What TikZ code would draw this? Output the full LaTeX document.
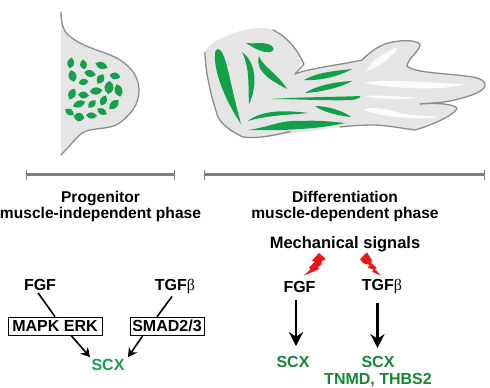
\documentclass[tikz,border=0pt]{standalone}
\usepackage{fontspec}
\setmainfont{Liberation Sans}
\newfontfamily\greekfont{Liberation Serif}
\usetikzlibrary{arrows.meta}
\definecolor{limb}{RGB}{229,229,229}
\definecolor{edgegrey}{RGB}{140,140,140}
\definecolor{muscle}{RGB}{18,160,72}
\definecolor{darkgene}{RGB}{22,135,50}
\definecolor{boltred}{RGB}{235,20,25}
\tikzset{
  x=1pt,y=-1pt,
  outline/.style={draw=edgegrey,line width=1.3pt,line join=round,line cap=round},
  phasebar/.style={draw=edgegrey!90!black,line width=2.6pt},
  phasetick/.style={draw=edgegrey!90!black,line width=1pt},
  highlight/.style={fill=white,fill opacity=.85},
  title/.style={font=\bfseries\fontsize{15.6}{16.6}\selectfont,align=center,inner sep=0pt,text=black},
  signal/.style={font=\bfseries\fontsize{16}{18}\selectfont,inner sep=0pt,text=black},
  pathwaybox/.style={draw=black,line width=.7pt,font=\bfseries\fontsize{16}{18}\selectfont,inner sep=0pt,minimum height=18pt,text=black},
  genelight/.style={font=\bfseries\fontsize{16}{18}\selectfont,inner sep=0pt,text=muscle},
  genedark/.style={font=\bfseries\fontsize{16}{18}\selectfont,inner sep=0pt,text=darkgene},
  plain/.style={line width=1.6pt,draw=black},
  pointer/.style={line width=1.6pt,draw=black,-{Stealth[length=9pt,width=10pt,inset=3pt]}},
  bigpointer/.style={line width=2.4pt,draw=black,-{Stealth[length=14pt,width=14pt,inset=4.5pt]}},
}
% small oval muscle precursor: centre x, centre y, length, width, angle
\newcommand{\cellleaf}[5]{%
  \fill[muscle,shift={(#1,#2)},rotate=#5]
    (-#3/2,0) .. controls (-#3/5,-#4/1.3) and (#3/5,-#4/1.3) .. (#3/2,0)
    .. controls (#3/5,#4/1.3) and (-#3/5,#4/1.3) .. (-#3/2,0) -- cycle;}
\begin{document}
\begin{tikzpicture}
\useasboundingbox (0,0) rectangle (490,388);

% progenitor limb bud
\fill[limb] (61,12) .. controls (61,25) and (64,33) .. (72,38)
  .. controls (88,50) and (110,52) .. (123,62)
  .. controls (134,70) and (139,80) .. (139,90)
  .. controls (139,104) and (132,114) .. (118,124)
  .. controls (108,130) and (92,127) .. (82,133)
  .. controls (74,140) and (68,148) .. (61,155) -- cycle;
\draw[outline] (61,12) .. controls (61,25) and (64,33) .. (72,38)
  .. controls (88,50) and (110,52) .. (123,62)
  .. controls (134,70) and (139,80) .. (139,90)
  .. controls (139,104) and (132,114) .. (118,124)
  .. controls (108,130) and (92,127) .. (82,133)
  .. controls (74,140) and (68,148) .. (61,155);
\cellleaf{70.7}{63}{11}{6}{80}
\cellleaf{83.5}{64.5}{10}{6}{100}
\cellleaf{101.5}{65.5}{13}{6}{-20}
\cellleaf{72.5}{76}{12}{7}{-75}
\cellleaf{90}{73.5}{12}{6}{-15}
\cellleaf{115}{76}{11}{6}{-10}
\cellleaf{83.5}{82}{10}{5.5}{10}
\cellleaf{100.5}{79}{11}{6.5}{60}
\cellleaf{109}{87.5}{13}{8}{85}
\cellleaf{118.5}{90.5}{13}{7}{-75}
\cellleaf{96}{91}{13}{6.5}{5}
\cellleaf{72}{94}{12}{6.5}{65}
\cellleaf{83.5}{95}{11}{6}{-5}
\cellleaf{79}{104}{13}{6}{20}
\cellleaf{92}{104}{10}{5.5}{45}
\cellleaf{103.5}{100.5}{11}{6}{65}
\cellleaf{114}{104.5}{13}{6.5}{45}
\cellleaf{69.5}{112}{10}{5.5}{-30}
\cellleaf{79}{117}{11}{7.5}{-10}
\cellleaf{91.5}{115.5}{11}{5.5}{-5}
\cellleaf{102}{111.5}{11}{5.5}{-30}

% differentiating limb silhouette
\fill[limb] (205,52) .. controls (208,44) and (220,38) .. (237,32)
  .. controls (250,28) and (265,26) .. (273,30)
  .. controls (286,36) and (296,48) .. (302,60)
  -- (295,74) .. controls (310,68) and (340,65) .. (362,60)
  .. controls (370,52) and (380,44) .. (393,42)
  .. controls (402,40) and (416,40) .. (420,44)
  .. controls (421,50) and (408,58) .. (407,66)
  .. controls (414,73) and (445,73) .. (473,77)
  .. controls (482,79) and (486,82) .. (485,86)
  .. controls (484,92) and (465,98) .. (450,101)
  .. controls (440,103) and (430,103) .. (420,104)
  .. controls (432,103) and (452,103) .. (457,108)
  .. controls (457,114) and (430,126) .. (415,130)
  .. controls (400,128) and (385,125) .. (373,125)
  .. controls (350,125) and (335,128) .. (310,131)
  .. controls (290,133) and (262,140) .. (243,137)
  .. controls (232,132) and (222,125) .. (218,117)
  .. controls (212,100) and (205,72) .. (205,52) -- cycle;
% only part of the silhouette carries a contour
\draw[outline] (273,30) .. controls (286,36) and (296,48) .. (302,60)
  -- (304,64) -- (295,74) .. controls (310,68) and (340,65) .. (362,60)
  .. controls (370,52) and (380,44) .. (393,42)
  .. controls (402,40) and (416,40) .. (420,44)
  .. controls (421,50) and (408,58) .. (407,66)
  .. controls (414,73) and (445,73) .. (473,77)
  .. controls (482,79) and (486,82) .. (485,86)
  .. controls (484,92) and (465,98) .. (450,101)
  .. controls (440,103) and (430,103) .. (420,104)
  .. controls (432,103) and (452,103) .. (457,108)
  .. controls (457,114) and (430,126) .. (415,130)
  .. controls (400,128) and (385,125) .. (373,125)
  .. controls (360,125) and (350,126) .. (340,127);
\draw[outline] (290,131.5) .. controls (275,135) and (258,139) .. (243,137)
  .. controls (232,132) and (222,125) .. (218,117)
  .. controls (212,100) and (205,72) .. (205,52);

% tendon highlights
\fill[highlight] (366,71) .. controls (372,60) and (385,52) .. (398,47)
  .. controls (392,58) and (378,68) .. (366,71) -- cycle;
\fill[highlight] (364,83) .. controls (385,78) and (430,83) .. (464,84)
  .. controls (450,90) and (400,90) .. (364,83) -- cycle;
\fill[highlight] (362,96) .. controls (380,95) and (400,96) .. (417,98)
  .. controls (400,100) and (380,99) .. (362,96) -- cycle;
\fill[highlight] (364,110) .. controls (368,106) and (385,108) .. (400,113)
  .. controls (415,116) and (432,116) .. (440,117)
  .. controls (420,120) and (385,118) .. (364,110) -- cycle;

% muscle fibres of the limb
\fill[muscle] (218,49) .. controls (226,50) and (229,80) .. (241,124)
  .. controls (228,105) and (214,75) .. (215,55) .. controls (215,51) and (216,49) .. (218,49) -- cycle;
\fill[muscle] (242,52) .. controls (256,62) and (258,85) .. (249,104)
  .. controls (248,85) and (250,68) .. (242,52) -- cycle;
\fill[muscle] (246,43) .. controls (256,44) and (262,42) .. (268,44)
  .. controls (276,47) and (274,51) .. (270,52)
  .. controls (262,53) and (254,48) .. (246,43) -- cycle;
\fill[muscle] (259,56) .. controls (262,66) and (278,74) .. (287,89)
  .. controls (274,82) and (254,72) .. (259,56) -- cycle;
\fill[muscle] (304,80) .. controls (318,72) and (335,71) .. (352,69)
  .. controls (340,76) and (320,81) .. (304,80) -- cycle;
\fill[muscle] (305,93) .. controls (318,85) and (335,82) .. (352,81)
  .. controls (340,88) and (320,92) .. (305,93) -- cycle;
\fill[muscle] (271,99) .. controls (300,97) and (340,97) .. (360,96)
  .. controls (362,97) and (358,99) .. (352,100) .. controls (330,101) and (295,99) .. (271,99) -- cycle;
\fill[muscle] (315,106) .. controls (330,106) and (345,112) .. (351,117)
  .. controls (340,116) and (322,112) .. (315,106) -- cycle;
\fill[muscle] (248,121) .. controls (262,110) and (285,110) .. (308,113)
  .. controls (290,115) and (268,115) .. (248,121) -- cycle;
\fill[muscle] (248,130) .. controls (270,127) and (280,120) .. (300,121)
  .. controls (320,120) and (335,122) .. (345,123)
  .. controls (320,129) and (280,131) .. (248,130) -- cycle;

% phase bars
\draw[phasebar] (26,174.5) -- (174,174.5);
\draw[phasetick] (26,170) -- (26,179.5);
\draw[phasetick] (174,170) -- (174,179.5);
\draw[phasebar] (204,174.5) -- (484.5,174.5);
\draw[phasetick] (204,170) -- (204,179.5);
\draw[phasetick] (484.5,170) -- (484.5,179.5);

\node[title] (leftphase) at (100.5,206.5) {Progenitor\\muscle-independent phase};
\node[title] (rightphase) at (345,206.5) {Differentiation\\muscle-dependent phase};

% progenitor pathway
\node[signal] (fgfA) at (40,285) {FGF};
\node[signal] (tgfA) at (175,287) {TGF{\greekfont\mdseries β}};
\node[pathwaybox,minimum width=94pt] (mapk) at (55,326) {MAPK ERK};
\node[pathwaybox,minimum width=74pt] (smad) at (167,326) {SMAD2/3};
\node[genelight] (scxA) at (108,365) {SCX};
\draw[plain] ([xshift=-2pt,yshift=-2pt]fgfA.south) -- (mapk.north);
\draw[plain] ([xshift=-3pt,yshift=-2pt]tgfA.south) -- ([xshift=-10pt]smad.north);
\draw[pointer] ([xshift=16pt]mapk.south) -- ([xshift=-18pt,yshift=2pt]scxA.north);
\draw[pointer] ([xshift=-24pt]smad.south) -- ([xshift=20pt,yshift=2pt]scxA.north);

% differentiation pathway
\node[signal,font=\bfseries\fontsize{16.5}{18}\selectfont] (mech) at (345,244) {Mechanical signals};
\node[signal] (fgfB) at (299.5,287) {FGF};
\node[signal] (tgfB) at (382,287) {TGF{\greekfont\mdseries β}};
\node[genedark] (scxB) at (293,362) {SCX};
\node[genedark] (scxC) at (378,362) {SCX};
\node[genedark] (tnmd) at (378,380) {TNMD, THBS2};
\draw[bigpointer] ([xshift=-3.5pt,yshift=-7pt]fgfB.south) -- ([xshift=3pt,yshift=10pt]scxB.north);
\draw[bigpointer] ([xshift=-4.5pt,yshift=-8pt]tgfB.south) -- ([xshift=-0.5pt,yshift=8pt]scxC.north);

% lightning bolts
\fill[boltred] (304,275.7) -- (310.7,269) -- (309,267.7) -- (315,261.7) -- (312,260.7)
  -- (319,253) -- (325.7,259) -- (321,262) -- (322,264) -- (318,267) -- (319,269) -- cycle;
\fill[boltred] (381,275.7) -- (372.3,271.7) -- (373.7,269.7) -- (367.7,267.7) -- (369.7,265)
  -- (363.3,263.3) -- (360,259) -- (367,252.3) -- (372.3,261) -- (370.3,262.3)
  -- (376.7,267.7) -- (375,269) -- cycle;
\end{tikzpicture}
\end{document}
